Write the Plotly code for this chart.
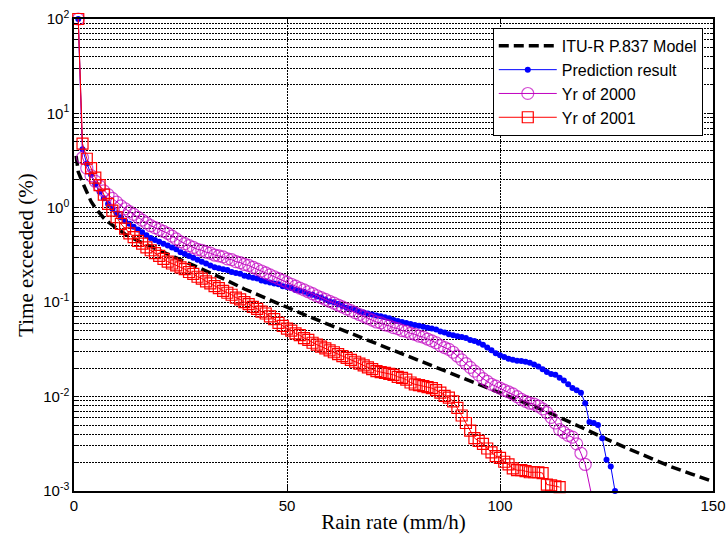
import plotly.graph_objects as go

# ---------------- data ----------------
itu_rate = [0.5, 1, 2, 3, 4, 5, 6, 7, 8, 10, 12, 15, 20, 25, 30, 35, 40, 45, 50, 55, 60,
            65, 70, 75, 80, 85, 90, 95, 100, 105, 110, 115, 120, 125, 130, 135, 140, 145, 150]
itu_pct = [3.55, 2.40, 1.86, 1.48, 1.17, 1.00, 0.871, 0.776, 0.708, 0.603, 0.525, 0.447,
           0.355, 0.282, 0.224, 0.178, 0.138, 0.110, 0.0871, 0.0708, 0.0575, 0.0468, 0.0380,
           0.0309, 0.0251, 0.0204, 0.0166, 0.0135, 0.0110, 0.00891, 0.00724, 0.00575,
           0.00447, 0.00355, 0.00282, 0.00224, 0.00182, 0.00151, 0.00126]

pred_rate = list(range(1, 128))
pred_pct = [100, 4.17, 2.95, 2.24, 1.78, 1.48, 1.26, 1.10, 0.977, 0.871,
            0.794, 0.724, 0.676, 0.631, 0.589, 0.550, 0.513, 0.479, 0.457, 0.437,
            0.417, 0.398, 0.380, 0.363, 0.339, 0.324, 0.309, 0.295, 0.282, 0.269,
            0.257, 0.245, 0.234, 0.229, 0.224, 0.219, 0.209, 0.204, 0.200, 0.191,
            0.186, 0.182, 0.178, 0.170, 0.166, 0.162, 0.158, 0.155, 0.148, 0.145,
            0.141, 0.135, 0.132, 0.129, 0.123, 0.120, 0.115, 0.112, 0.107, 0.102,
            0.100, 0.0955, 0.0912, 0.0871, 0.0851, 0.0832, 0.0794, 0.0776, 0.0759, 0.0741,
            0.0724, 0.0708, 0.0692, 0.0676, 0.0646, 0.0631, 0.0617, 0.0603, 0.0589, 0.0575,
            0.0562, 0.0550, 0.0537, 0.0525, 0.0513, 0.0490, 0.0479, 0.0457, 0.0447, 0.0437,
            0.0427, 0.0417, 0.0398, 0.0389, 0.0372, 0.0355, 0.0331, 0.0309, 0.0288, 0.0275,
            0.0263, 0.0251, 0.0245, 0.0240, 0.0238, 0.0234, 0.0229, 0.0219, 0.0209, 0.0195,
            0.0182, 0.0174, 0.0170, 0.0158, 0.0148, 0.0135, 0.0123, 0.0117, 0.0110, 0.00851,
            0.00537, 0.00525, 0.00501, 0.00363, 0.00214, 0.00182, 0.00100]

yr2000_rate = list(range(1, 121)) + [121.3]
yr2000_pct = [100, 3.39, 2.63, 2.19, 1.91, 1.70, 1.51, 1.38, 1.26, 1.15,
              1.05, 0.977, 0.912, 0.851, 0.794, 0.741, 0.692, 0.646, 0.617, 0.589,
              0.562, 0.537, 0.501, 0.468, 0.437, 0.417, 0.398, 0.380, 0.363, 0.355,
              0.339, 0.331, 0.316, 0.309, 0.302, 0.288, 0.282, 0.269, 0.263, 0.251,
              0.245, 0.234, 0.224, 0.214, 0.204, 0.195, 0.186, 0.178, 0.170, 0.162,
              0.155, 0.148, 0.141, 0.135, 0.129, 0.123, 0.117, 0.112, 0.107, 0.102,
              0.0977, 0.0933, 0.0891, 0.0851, 0.0813, 0.0776, 0.0741, 0.0708, 0.0676, 0.0646,
              0.0617, 0.0603, 0.0575, 0.0562, 0.0537, 0.0525, 0.0501, 0.0490, 0.0468, 0.0457,
              0.0437, 0.0427, 0.0407, 0.0389, 0.0372, 0.0347, 0.0331, 0.0316, 0.0295, 0.0269,
              0.0245, 0.0224, 0.0204, 0.0186, 0.0170, 0.0155, 0.0145, 0.0135, 0.0129, 0.0123,
              0.0117, 0.0112, 0.0107, 0.0100, 0.00933, 0.00891, 0.00851, 0.00832, 0.00794, 0.00741,
              0.00676, 0.00603, 0.00525, 0.00447, 0.00417, 0.00389, 0.00372, 0.00316, 0.00251, 0.00191,
              0.00100]

yr2001_rate = list(range(1, 115))
yr2001_pct = [100, 4.79, 3.31, 2.63, 2.09, 1.74, 1.38, 1.10, 0.933, 0.794,
              0.676, 0.603, 0.537, 0.490, 0.447, 0.417, 0.380, 0.355, 0.331, 0.309,
              0.288, 0.269, 0.257, 0.245, 0.234, 0.224, 0.209, 0.200, 0.186, 0.178,
              0.166, 0.158, 0.148, 0.141, 0.132, 0.126, 0.120, 0.112, 0.107, 0.100,
              0.0955, 0.0891, 0.0851, 0.0794, 0.0759, 0.0708, 0.0661, 0.0603, 0.0562, 0.0525,
              0.0501, 0.0468, 0.0447, 0.0417, 0.0398, 0.0372, 0.0355, 0.0339, 0.0324, 0.0309,
              0.0295, 0.0282, 0.0269, 0.0257, 0.0245, 0.0234, 0.0224, 0.0214, 0.0204, 0.0195,
              0.0186, 0.0182, 0.0178, 0.0174, 0.0170, 0.0162, 0.0158, 0.0151, 0.0141, 0.0135,
              0.0132, 0.0129, 0.0126, 0.0123, 0.0117, 0.0110, 0.0102, 0.00977, 0.00891, 0.00759,
              0.00631, 0.00525, 0.00437, 0.00363, 0.00339, 0.00316, 0.00282, 0.00257, 0.00234, 0.00224,
              0.00204, 0.00191, 0.00174, 0.00166, 0.00166, 0.00162, 0.00158, 0.00158, 0.00158, 0.00155,
              0.00117, 0.00115, 0.00112, 0.00110]

x_ticks = [0, 50, 100, 150]
decades = [-3, -2, -1, 0, 1, 2]

# ---------------- figure ----------------
y_major = [10.0 ** d for d in decades]
y_major_text = [f"10<sup>{d}</sup>" for d in decades]
y_minor = [m * 10.0 ** d for d in decades[:-1] for m in range(2, 10)]

fig = go.Figure()
fig.add_trace(go.Scatter(
    x=itu_rate, y=itu_pct, mode="lines", name="ITU-R P.837 Model",
    line=dict(color="black", width=3.5, dash="10px,5px"), cliponaxis=False))
fig.add_trace(go.Scatter(
    x=pred_rate, y=pred_pct, mode="lines+markers", name="Prediction result",
    line=dict(color="#0000FF", width=1),
    marker=dict(symbol="circle", size=6, color="#0000FF"), cliponaxis=False))
m2000 = [12] * (len(yr2000_rate) - 1) + [0]
fig.add_trace(go.Scatter(
    x=yr2000_rate, y=yr2000_pct, mode="lines+markers", name="Yr of 2000",
    line=dict(color="#C000C0", width=1),
    marker=dict(symbol="circle-open", size=m2000, color="#C000C0", line=dict(width=1.2)),
    cliponaxis=False))
fig.add_trace(go.Scatter(
    x=yr2001_rate, y=yr2001_pct, mode="lines+markers", name="Yr of 2001",
    line=dict(color="#FF0000", width=1),
    marker=dict(symbol="square-open", size=11, color="#FF0000", line=dict(width=1.2)),
    cliponaxis=False))

axis_common = dict(
    showline=True, linecolor="black", linewidth=1.5, mirror="ticks",
    ticks="inside", ticklen=5, tickcolor="black",
    showgrid=True, gridcolor="black", gridwidth=1, griddash="2px,1px",
    zeroline=False, automargin=False,
    tickfont=dict(family="Liberation Sans, Arial", size=15, color="black"),
)

fig.update_xaxes(range=[0, 150], tickvals=x_ticks, ticktext=[str(v) for v in x_ticks],
                 title=dict(text="Rain rate (mm/h)", standoff=2,
                            font=dict(family="Liberation Serif, Times New Roman", size=21, color="black")),
                 **axis_common)
fig.update_yaxes(type="log", range=[-3, 2], tickvals=y_major, ticktext=y_major_text,
                 minor=dict(tickmode="array", tickvals=y_minor, ticks="inside", ticklen=3,
                            tickcolor="black", showgrid=True, gridcolor="black",
                            gridwidth=1, griddash="2px,1px"),
                 title=dict(text="Time exceeded (%)", standoff=4,
                            font=dict(family="Liberation Serif, Times New Roman", size=21, color="black")),
                 **axis_common)

fig.update_layout(
    width=726, height=544,
    margin=dict(l=74, r=13, t=19, b=53),
    paper_bgcolor="white", plot_bgcolor="white",
    showlegend=True,
    legend=dict(x=0.984, y=0.981, xanchor="right", yanchor="top",
                bgcolor="white", bordercolor="black", borderwidth=1,
                font=dict(family="Liberation Sans, Arial", size=16, color="black"),
                itemwidth=58, tracegroupgap=0),
)

fig.write_html("out.html", config={"displayModeBar": False},
               post_script="document.body.style.margin='0';document.body.style.overflow='hidden';")
